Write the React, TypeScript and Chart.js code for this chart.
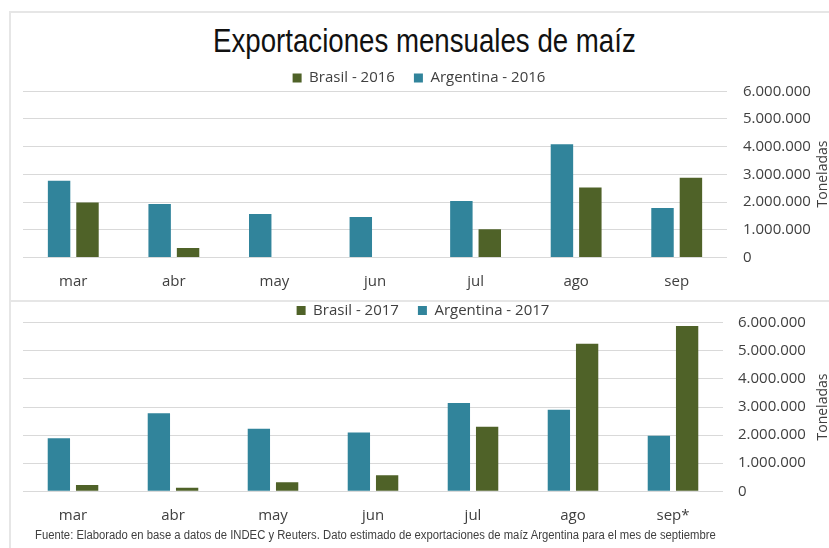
import React, { useEffect, useLayoutEffect, useRef } from "react";
import { Chart, registerables } from "chart.js";

Chart.register(...registerables);

// ---------- text ----------
const TITLE = "Exportaciones mensuales de maíz";
const FOOTER =
  "Fuente: Elaborado en base a datos de INDEC y Reuters. Dato estimado de exportaciones de maíz Argentina para el mes de septiembre";
const AXIS_TITLE = "Toneladas";

// ---------- data ----------
const months2016 = ["mar", "abr", "may", "jun", "jul", "ago", "sep"];
const months2017 = ["mar", "abr", "may", "jun", "jul", "ago", "sep*"];

const argentina2016 = [2770000, 1930000, 1570000, 1460000, 2040000, 4090000, 1790000];
const brasil2016 = [1990000, 340000, 0, 0, 1020000, 2530000, 2880000];

const argentina2017 = [1890000, 2780000, 2230000, 2090000, 3140000, 2900000, 1980000];
const brasil2017 = [220000, 130000, 320000, 570000, 2300000, 5250000, 5880000];

const Y_MIN = 0;
const Y_MAX = 6000000;
const Y_STEP = 1000000;

// ---------- styles ----------
const TEAL = "#31849B";
const OLIVE = "#4F6228";
const TEXT = "#404040";
const GRID = "#d9d9d9";
const FRAME = "#e6e6e6";
const LIB = '"Liberation Sans", Arial, sans-serif';
const SANS = '"Open Sans", "DejaVu Sans", sans-serif';

const fmt = (v: number) => String(Math.round(v)).replace(/\B(?=(\d{3})+(?!\d))/g, ".");

// shrink the legend box height a little (tight gap between legend and plot)
const legendTrim = {
  id: "legendTrim",
  beforeLayout(chart: any, _args: any, opts: any) {
    const lg = chart.legend;
    if (lg && !lg.__trimmed) {
      const orig = lg.fit;
      lg.fit = function (this: any) {
        orig.call(this);
        this.height = Math.max(0, this.height - ((opts && opts.trim) || 0));
      };
      lg.__trimmed = true;
    }
  },
};

type PanelProps = {
  labels: string[];
  arg: number[];
  bra: number[];
  argLabel: string;
  braLabel: string;
  top: number;
  width: number;
  height: number;
  padTop: number;
  padLeft: number;
  padRight: number;
  yWidth: number;
  yPad: number;
  xHeight: number;
  xPad: number;
  trim: number;
};

function BarPanel(p: PanelProps) {
  const ref = useRef<HTMLCanvasElement | null>(null);
  useEffect(() => {
    if (!ref.current) return;
    const chart = new Chart(ref.current, {
      type: "bar",
      data: {
        labels: p.labels,
        datasets: [
          {
            label: p.argLabel,
            data: p.arg,
            backgroundColor: TEAL,
            borderWidth: 0,
            barPercentage: 0.79,
            categoryPercentage: 0.565,
          },
          {
            label: p.braLabel,
            data: p.bra,
            backgroundColor: OLIVE,
            borderWidth: 0,
            barPercentage: 0.79,
            categoryPercentage: 0.565,
          },
        ],
      },
      options: {
        responsive: false,
        animation: false,
        layout: { padding: { left: p.padLeft, right: p.padRight, top: p.padTop, bottom: 0 } },
        plugins: {
          tooltip: { enabled: false },
          title: { display: false },
          legend: {
            display: true,
            position: "top",
            reverse: true,
            labels: {
              boxWidth: 9,
              boxHeight: 9,
              padding: 19,
              color: TEXT,
              font: { family: SANS, size: 15 },
            },
          },
          legendTrim: { trim: p.trim },
        } as any,
        scales: {
          x: {
            grid: { display: false },
            border: { display: false },
            ticks: { color: TEXT, font: { family: SANS, size: 15 }, padding: p.xPad, maxRotation: 0 },
            afterFit: (s: any) => {
              s.height = p.xHeight;
            },
          },
          y: {
            position: "right",
            min: Y_MIN,
            max: Y_MAX,
            grid: { color: GRID, lineWidth: 1, drawTicks: false },
            border: { display: false },
            ticks: {
              stepSize: Y_STEP,
              color: TEXT,
              padding: p.yPad,
              font: { family: SANS, size: 15 },
              callback: (v: any) => fmt(Number(v)),
            },
            afterFit: (s: any) => {
              s.width = p.yWidth;
            },
          },
        },
      },
      plugins: [legendTrim as any],
    });
    return () => chart.destroy();
  }, []);
  return (
    <canvas
      ref={ref}
      width={p.width}
      height={p.height}
      style={{ position: "absolute", left: 10, top: p.top, width: p.width, height: p.height, display: "block" }}
    />
  );
}

function AxisTitle({ cy }: { cy: number }) {
  return (
    <div
      style={{
        position: "absolute",
        left: 822 - 60,
        top: cy - 10,
        width: 120,
        height: 20,
        lineHeight: "20px",
        textAlign: "center",
        fontFamily: SANS,
        fontSize: 14,
        color: TEXT,
        transform: "rotate(-90deg)",
        transformOrigin: "50% 50%",
        whiteSpace: "nowrap",
      }}
    >
      {AXIS_TITLE}
    </div>
  );
}

// text squeezed horizontally to a target width (condensed look of the original)
function FitText(props: {
  text: string;
  left: number;
  top: number;
  width: number;
  size: number;
  color: string;
  lh: number;
  weight?: number;
}) {
  const ref = useRef<HTMLSpanElement | null>(null);
  useLayoutEffect(() => {
    const el = ref.current;
    if (!el) return;
    const w = el.offsetWidth;
    if (w > 0) el.style.transform = `scaleX(${props.width / w})`;
  }, []);
  return (
    <span
      ref={ref}
      style={{
        position: "absolute",
        left: props.left,
        top: props.top,
        fontFamily: LIB,
        fontSize: props.size,
        fontWeight: props.weight || 400,
        lineHeight: props.lh + "px",
        color: props.color,
        whiteSpace: "nowrap",
        transformOrigin: "0 50%",
        display: "inline-block",
      }}
    >
      {props.text}
    </span>
  );
}

export default function App() {
  return (
    <div style={{ position: "absolute", left: 0, top: 0, width: 829, height: 548, background: "#fff", overflow: "hidden" }}>
      <FitText text={TITLE} left={213} top={20} width={423} size={34} color="#111111" lh={40} />
      <BarPanel
        labels={months2016}
        arg={argentina2016}
        bra={brasil2016}
        argLabel="Argentina - 2016"
        braLabel="Brasil - 2016"
        top={12}
        width={819}
        height={288}
        padTop={39.5}
        padLeft={13}
        padRight={14}
        yWidth={88}
        yPad={16}
        xHeight={42.5}
        xPad={7}
        trim={4.2}
      />
      <BarPanel
        labels={months2017}
        arg={argentina2017}
        bra={brasil2017}
        argLabel="Argentina - 2017"
        braLabel="Brasil - 2017"
        top={284}
        width={819}
        height={250}
        padTop={0}
        padLeft={13}
        padRight={6}
        yWidth={100}
        yPad={15}
        xHeight={42.7}
        xPad={7.5}
        trim={5.3}
      />
      <AxisTitle cy={174} />
      <AxisTitle cy={407} />
      <FitText text={FOOTER} left={35} top={527} width={681} size={12} color={TEXT} lh={16} />
      {/* frame lines */}
      <div style={{ position: "absolute", left: 9, top: 11, width: 820, height: 2, background: FRAME }} />
      <div style={{ position: "absolute", left: 9, top: 11, width: 2, height: 537, background: FRAME }} />
      <div style={{ position: "absolute", left: 9, top: 300, width: 820, height: 2, background: FRAME }} />
    </div>
  );
}
